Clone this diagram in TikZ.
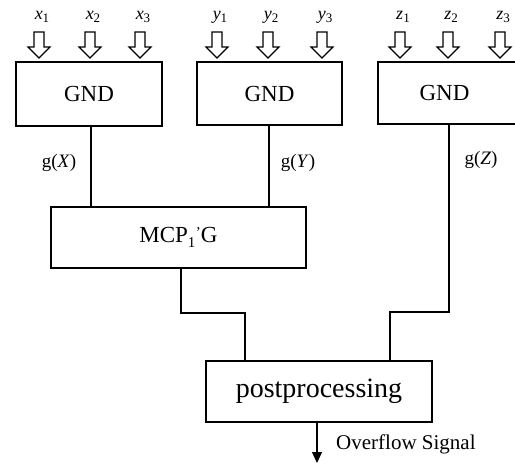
\documentclass[tikz,border=0pt]{standalone}
\usepackage{fontspec}
\setmainfont{Liberation Serif}
\usetikzlibrary{arrows.meta}
\newcommand{\ivar}[2]{\textit{#1}\raisebox{-0.4ex}{\fontsize{13}{13}\selectfont #2}}
\tikzset{
  blk/.style={draw, line width=1.2pt, inner sep=0pt, fill=white},
  wire/.style={line width=1.1pt},
  hollow/.style={draw, line width=1.1pt, fill=white, line join=miter},
  lbl/.style={inner sep=0pt, font=\fontsize{18}{18}\selectfont}
}
\begin{document}
\begin{tikzpicture}[x=1pt, y=-1pt]
\useasboundingbox (0,0) rectangle (515,463);
\clip (0,0) rectangle (515,463);
% blocks
\node[blk, minimum width=146pt, minimum height=64pt, font=\fontsize{23}{23}\selectfont] (b1) at (89,94) {GND};
\node[blk, minimum width=145pt, minimum height=63pt, font=\fontsize{23}{23}\selectfont] (b2) at (269.5,93.5) {GND};
\node[blk, minimum width=145pt, minimum height=62pt, font=\fontsize{23}{23}\selectfont] (b3) at (450.5,93) {\hspace{-12pt}GND};
\node[blk, minimum width=255pt, minimum height=61pt, font=\fontsize{23}{23}\selectfont] (mcp) at (178.5,237.5)
  {MCP\raisebox{-0.45ex}{\fontsize{15}{15}\selectfont 1}\kern0.5pt\raisebox{0.45ex}{\fontsize{15}{15}\selectfont '}G};
\node[blk, minimum width=226pt, minimum height=61pt, font=\fontsize{28}{28}\selectfont] (post) at (319,391.5) {postprocessing};
% hollow input arrows
\foreach \n/\cx/\t in {ax1/39/\ivar{x}{1}, ax2/90/\ivar{x}{2}, ax3/140/\ivar{x}{3},
                     ay1/217/\ivar{y}{1}, ay2/268/\ivar{y}{2}, ay3/322/\ivar{y}{3},
                     az1/400/\ivar{z}{1}, az2/448/\ivar{z}{2}, az3/500/\ivar{z}{3}}{
  \draw[hollow] (\cx-5,32) -- (\cx+5,32) -- (\cx+5,47) -- (\cx+11,47) -- (\cx,58)
     -- (\cx-11,47) -- (\cx-5,47) -- cycle;
  \node[lbl] (\n) at (\cx+3,17) {\t};
}
% outputs of GND blocks
\coordinate (gx) at ([xshift=2pt]b1.south);
\coordinate (gy) at ([xshift=-0.5pt]b2.south);
\coordinate (gz) at ([xshift=-1.5pt]b3.south);
\draw[wire] (gx) -- (gx |- mcp.north);
\draw[wire] (gy) -- (gy |- mcp.north);
\node[lbl, font=\fontsize{19}{19}\selectfont] (lx) at (59,163) {g(\textit{X})};
\node[lbl, font=\fontsize{19}{19}\selectfont] (ly) at (298,163) {g(\textit{Y})};
\node[lbl, font=\fontsize{19}{19}\selectfont] (lz) at (481,160) {g(\textit{Z})};
% to postprocessing
\coordinate (m1) at ([xshift=2.5pt]mcp.south);
\coordinate (jl) at (245,313);
\coordinate (p1) at ([xshift=-74pt]post.north);
\draw[wire] (m1) |- (jl) -- (p1);
\coordinate (jr) at (390,312);
\coordinate (p2) at ([xshift=71pt]post.north);
\draw[wire] (gz) |- (jr) -- (p2);
% output
\coordinate (out) at (317,463);
\draw[wire, -{Triangle[width=10pt,length=11pt]}] ([xshift=-2pt]post.south) -- (out);
\node[lbl, anchor=west, font=\fontsize{21}{21}\selectfont] (ov) at (336,444) {Overflow Signal};
\end{tikzpicture}
\end{document}
